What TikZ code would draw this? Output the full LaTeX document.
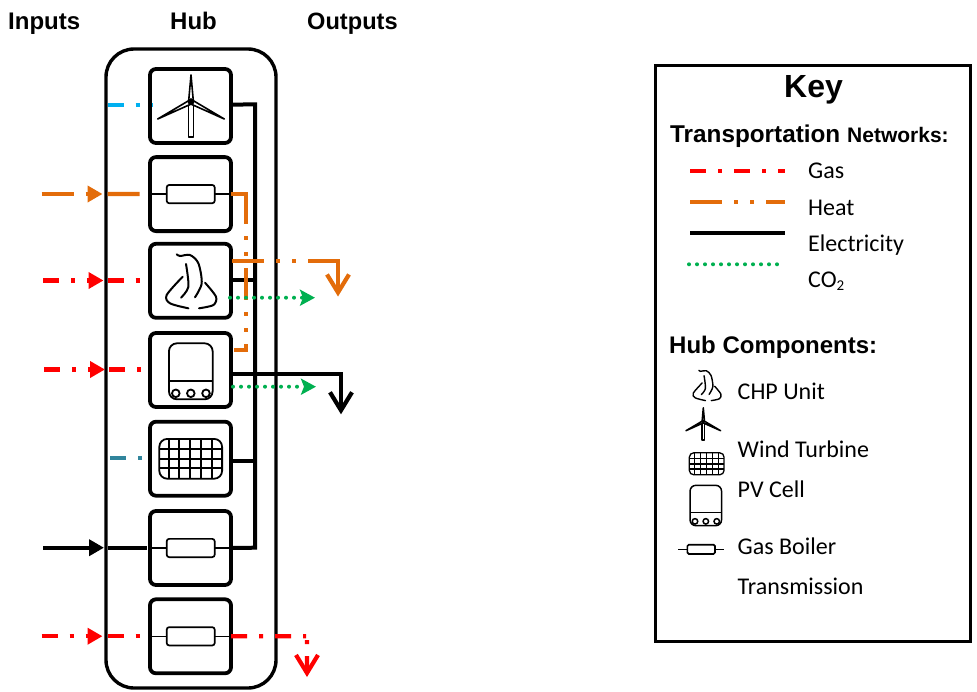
\documentclass[tikz,border=0pt]{standalone}
\usepackage{fontspec}
\setmainfont{Liberation Sans}
\newfontfamily\carl{Carlito}
\usetikzlibrary{arrows.meta}
\definecolor{gasc}{RGB}{255,0,0}
\definecolor{heatc}{RGB}{227,108,10}
\definecolor{coc}{RGB}{0,176,80}
\definecolor{windc}{RGB}{0,176,240}
\definecolor{pvc}{RGB}{49,133,156}
\newcommand{\flameicon}[4]{%
\begin{scope}[shift={(#1,#2)},scale=#3,yscale=-1,line width=#4,line cap=round]
\draw plot[smooth] coordinates {(-14,26.7) (-10.7,25) (-0.7,26) (7.7,17.7) (11,-2.3) (4.3,-16.3)};
\draw plot[smooth] coordinates {(-4.7,17) (-2.3,-5.7) (-9.7,-16.7)};
\draw plot[smooth] coordinates {(-8,4.3) (-24,-14) (-20.7,-22.3) (-2.3,-27.3)};
\draw plot[smooth] coordinates {(14.3,-1.7) (25.3,-15.7) (22.7,-24) (8.3,-27.3)};
\end{scope}}
\newcommand{\turbineicon}[4]{%
\begin{scope}[shift={(#1,#2)},scale=#3,yscale=-1,line width=#4,line join=round]
\draw (-2.5,0) rectangle (2.5,-35.3);
\draw[fill=white] (-2.4,0) -- (0,26.7) -- (2.4,0) -- cycle;
\draw[fill=white] (0,2.4) -- (-33.3,-17.3) -- (0,-2.4) -- cycle;
\draw[fill=white] (0,2.4) -- (33.3,-17.3) -- (0,-2.4) -- cycle;
\fill (0,0) circle[radius=3.4];
\end{scope}}
\newcommand{\gridicon}[4]{%
\begin{scope}[shift={(#1,#2)},scale=#3,yscale=-1,line width=#4]
\draw[rounded corners=#3*8pt] (-31.4,-19.9) rectangle (31.4,19.9);
\foreach \vx in {-21.7,-11.7,-1,10,21} {\draw (\vx,-19.9) -- (\vx,19.9);}
\foreach \hy in {9.8,-0.2,-9.5} {\draw (-31.4,\hy) -- (31.4,\hy);}
\end{scope}}
\newcommand{\boilericon}[4]{%
\begin{scope}[shift={(#1,#2)},scale=#3,yscale=-1,line width=#4]
\draw[rounded corners=#3*8pt] (-21.85,-28) rectangle (21.85,28);
\draw (-21.85,-9.7) -- (21.85,-9.7);
\foreach \cx in {-15,0,15.2} {\draw[fill=white] (\cx,-22) circle[radius=3.8];}
\end{scope}}
\tikzset{
  hubbox/.style={draw,line width=3.4pt,rounded corners=28pt,minimum width=170pt,minimum height=639pt,inner sep=0,outer sep=0},
  unit/.style={draw,fill=white,line width=3.8pt,rounded corners=6pt,minimum width=81pt,minimum height=74pt,inner sep=0,outer sep=0},
  res/.style={draw,fill=white,line width=1.7pt,rounded corners=2.5pt,minimum width=48pt,minimum height=18.3pt,inner sep=0,outer sep=0},
  ressmall/.style={draw,fill=white,line width=1.7pt,rounded corners=1.5pt,minimum width=27.7pt,minimum height=9.3pt,inner sep=0,outer sep=0},
  thin link/.style={line width=1.5pt},
  gasline/.style={color=gasc,line width=4.2pt,dash pattern=on 16pt off 12pt on 4pt off 12pt},
  heatline/.style={color=heatc,line width=4.2pt,dash pattern=on 32pt off 12pt on 4pt off 12pt on 4pt off 12pt},
  elecline/.style={color=black,line width=4pt,line join=miter},
  coline/.style={color=coc,line width=4pt,line cap=round,dash pattern=on 0pt off 8pt},
  intip/.style={-{Triangle[length=15pt,width=16pt]}},
  cotip/.style={-{Stealth[length=15pt,width=16pt,inset=3pt]}},
  outtip/.style={-{Straight Barb[length=18pt,width=22pt,line width=4.2pt]}},
  title/.style={anchor=base west,inner sep=0,font=\fontsize{24}{24}\selectfont\bfseries},
  lab/.style={anchor=base west,inner sep=0,font=\carl\fontsize{24}{24}\selectfont},
}
\begin{document}
\begin{tikzpicture}[x=1pt,y=-1pt]
\useasboundingbox (0,0) rectangle (977,691);
% headings
\node[title] (tin) at (8,29) {Inputs};
\node[title] (thub) at (170,29) {Hub};
\node[title,font=\fontsize{23.6}{24}\selectfont\bfseries] (tout) at (307,29) {Outputs};
% hub and units
\node[hubbox] (hub) at (191,368.5) {};
\node[unit] (b1) at (190.5,106) {};
\node[unit] (b2) at (190.5,194.1) {};
\node[unit] (b3) at (190.5,280.8) {};
\node[unit] (b4) at (190.5,370) {};
\node[unit] (b5) at (190.5,458.7) {};
\node[unit] (b6) at (190.5,548) {};
\node[unit] (b7) at (190.5,636.3) {};
% unit contents
\turbineicon{191}{101.7}{1}{1.6pt}
\node[res] (r2) at (190.7,194.1) {};
\draw[thin link] (b2.west) -- (r2.west) (r2.east) -- (b2.east);
\flameicon{190.7}{281}{1}{2pt}
\boilericon{190.8}{371.3}{1}{1.8pt}
\gridicon{190.7}{458.8}{1}{1.8pt}
\node[res] (r6) at (190.7,548) {};
\draw[thin link] (b6.west) -- (r6.west) (r6.east) -- (b6.east);
\node[res] (r7) at (190.7,636.3) {};
\draw[thin link] (b7.west) -- (r7.west) (r7.east) -- (b7.east);
% ports and free ends
\coordinate (w1) at (107.7,104.7);
\coordinate (w2) at (153,104.7);
\coordinate (pv1) at (110,458);
\coordinate (pv2) at (b5.west|-pv1);
\coordinate (i2) at (41.7,194);
\coordinate (a2) at (102.5,194);
\coordinate (h2) at (107.7,194);
\coordinate (i3) at (43,280.5);
\coordinate (a3) at (103.5,280.5);
\coordinate (h3) at (107.7,280.5);
\coordinate (i4) at (44,369.5);
\coordinate (a4) at (105,369.5);
\coordinate (h4) at (109.3,369.5);
\coordinate (i6) at (43,547.7);
\coordinate (a6) at (104,547.7);
\coordinate (h6) at (108,547.7);
\coordinate (e6) at (147,547.7);
\coordinate (i7) at (41.7,636.2);
\coordinate (a7) at (102.5,636.2);
\coordinate (h7) at (107.7,636.2);
\coordinate (s1) at (b1.east|-w1);
\coordinate (bt) at (255,104.3);
\coordinate (bb) at (255,547.7);
\coordinate (s3) at (231,280.3);
\coordinate (t3) at (255,280.3);
\coordinate (s5) at (231,460.7);
\coordinate (t5) at (255,460.7);
\coordinate (s4) at (231,374.3);
\coordinate (k4) at (341,374.3);
\coordinate (o4) at (341,414.3);
\coordinate (hc1) at (246,194.1);
\coordinate (hc2) at (246,350);
\coordinate (hc3) at (234,350);
\coordinate (hs3) at (232,261.3);
\coordinate (hk3) at (338,261.3);
\coordinate (ho3) at (338,296.5);
\coordinate (c3a) at (230,297.7);
\coordinate (c3b) at (315,297.7);
\coordinate (c4a) at (233,386.7);
\coordinate (c4b) at (316,386.7);
\coordinate (g7k) at (307,636.2);
\coordinate (g7o) at (307,677);
% electricity
\draw[elecline] (s1) -- (bt) -- (bb) -- (b6.east);
\draw[elecline] (s3) -- (t3);
\draw[elecline] (s5) -- (t5);
\draw[elecline,outtip] (s4) -- (k4) -- (o4);
\draw[elecline,intip] (i6) -- (a6);
\draw[elecline] (h6) -- (e6);
% wind and solar feeds
\draw[gasline,color=windc] (w1) -- (w2);
\draw[gasline,color=pvc] (pv1) -- (pv2);
% heat
\draw[heatline,intip] (i2) -- (a2);
\draw[heatline] (h2) -- (b2.west);
\draw[heatline,dash pattern=on 45pt off 12pt on 4pt off 12pt on 4pt off 12pt on 32pt off 12pt on 4pt off 12pt on 4pt off 12pt on 40pt] (b2.east) -- (hc1) -- (hc2) -- (hc3);
\draw[heatline,outtip,dash pattern=on 32pt off 12pt on 4pt off 12pt on 4pt off 12pt on 70pt] (hs3) -- (hk3) -- (ho3);
% gas
\draw[gasline,intip] (i3) -- (a3);
\draw[gasline] (h3) -- (b3.west|-h3);
\draw[gasline,intip] (i4) -- (a4);
\draw[gasline] (h4) -- (b4.west|-h4);
\draw[gasline,intip] (i7) -- (a7);
\draw[gasline] (h7) -- (b7.west|-h7);
\draw[gasline,outtip,dash pattern=on 16pt off 12pt on 4pt off 12pt on 16pt off 12pt on 3pt off 5pt on 4pt off 12pt on 30pt] (b7.east) -- (g7k) -- (g7o);
% CO2
\draw[coline,cotip] (c3a) -- (c3b);
\draw[coline,cotip] (c4a) -- (c4b);
% key
\node[draw,line width=3pt,minimum width=315.7pt,minimum height=575.3pt,inner sep=0] (key) at (812.85,353.35) {};
\node[title,font=\fontsize{32}{32}\selectfont\bfseries] (kt) at (784,97.3) {Key};
\node[title,font=\fontsize{24.3}{26}\selectfont\bfseries] (kn) at (670,142.7) {Transportation};
\node[title,font=\fontsize{21}{24}\selectfont\bfseries] (kn2) at (847,142.7) {Networks:};
\node[lab] (lg) at (808,178.3) {Gas};
\node[lab] (lh) at (808,215) {Heat};
\node[lab] (le) at (808,251) {Electricity};
\node[lab] (lc) at (808,287.3) {CO\raisebox{-3pt}{\fontsize{15}{15}\selectfont 2}};
\coordinate (lg1) at (690,171.3);
\coordinate (lg2) at (785.3,171.3);
\coordinate (lh1) at (690,202.3);
\coordinate (lh2) at (785.3,202.3);
\coordinate (le1) at (690,233.3);
\coordinate (le2) at (785.3,233.3);
\coordinate (lc1) at (689,264.3);
\coordinate (lc2) at (781,264.3);
\draw[gasline] (lg1) -- (lg2);
\draw[heatline] (lh1) -- (lh2);
\draw[elecline] (le1) -- (le2);
\draw[coline] (lc1) -- (lc2);
\node[title] (kc) at (669,353) {Hub Components:};
\flameicon{706.7}{385.3}{0.56}{1.4pt}
\turbineicon{703.3}{421.7}{0.52}{1.5pt}
\gridicon{706.7}{463.8}{0.553}{1.3pt}
\boilericon{705.8}{505.5}{0.72}{1.5pt}
\node[ressmall] (lr) at (701.2,549.3) {};
\coordinate (lr1) at (678.3,549.3);
\coordinate (lr2) at (724.3,549.3);
\draw[thin link] (lr1) -- (lr.west) (lr.east) -- (lr2);
\node[lab] (l1) at (737.5,399.3) {CHP Unit};
\node[lab] (l2) at (737.5,457.3) {Wind Turbine};
\node[lab] (l3) at (737.5,497) {PV Cell};
\node[lab] (l4) at (737.5,554) {Gas Boiler};
\node[lab] (l5) at (737.5,594) {Transmission};
\end{tikzpicture}
\end{document}
